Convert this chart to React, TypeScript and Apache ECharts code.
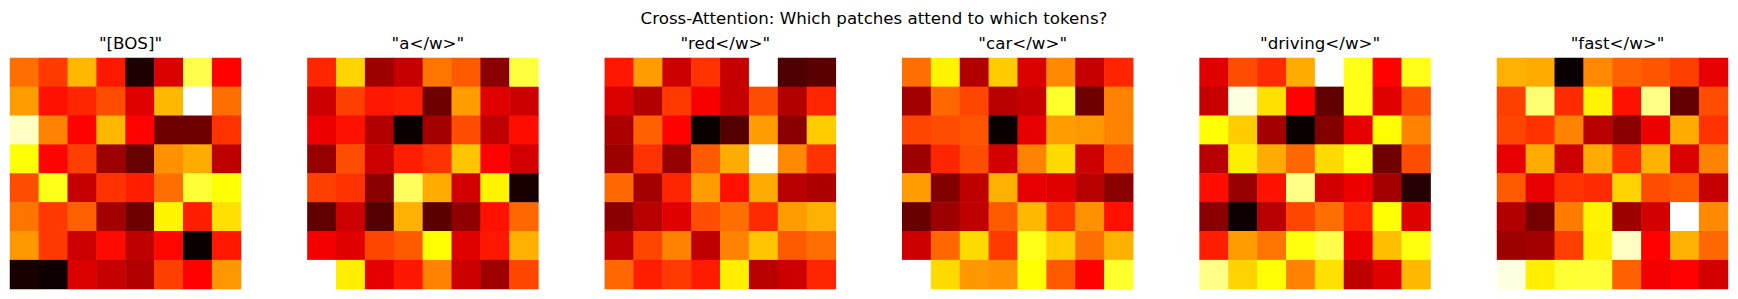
import React, { useEffect, useRef } from "react";
import * as echarts from "echarts";

const mainTitle = "Cross-Attention: Which patches attend to which tokens?";
const tokens = ['"[BOS]"', '"a</w>"', '"red</w>"', '"car</w>"', '"driving</w>"', '"fast</w>"'];
const patchIdx = ["0", "1", "2", "3", "4", "5", "6", "7"];

const attnBos = [
  [0.53, 0.45, 0.64, 0.40, 0.03, 0.31, 0.82, 0.365],
  [0.60, 0.39, 0.42, 0.48, 0.32, 0.64, 1.0, 0.53],
  [0.94, 0.56, 0.365, 0.64, 0.37, 0.15, 0.15, 0.44],
  [0.75, 0.37, 0.46, 0.22, 0.14, 0.58, 0.62, 0.27],
  [0.48, 0.77, 0.28, 0.44, 0.41, 0.53, 0.80, 0.75],
  [0.54, 0.45, 0.51, 0.23, 0.15, 0.73, 0.41, 0.70],
  [0.59, 0.45, 0.29, 0.38, 0.27, 0.375, 0.0, 0.40],
  [0.02, 0.005, 0.31, 0.28, 0.25, 0.46, 0.365, 0.59],
];
const attnA = [
  [0.42, 0.68, 0.22, 0.28, 0.54, 0.50, 0.19, 0.81],
  [0.29, 0.46, 0.40, 0.41, 0.15, 0.60, 0.32, 0.29],
  [0.34, 0.39, 0.25, 0.0, 0.23, 0.48, 0.27, 0.385],
  [0.21, 0.48, 0.29, 0.41, 0.44, 0.66, 0.365, 0.30],
  [0.46, 0.44, 0.19, 0.84, 0.62, 0.30, 0.73, 0.02],
  [0.13, 0.29, 0.11, 0.63, 0.12, 0.20, 0.39, 0.52],
  [0.35, 0.32, 0.47, 0.50, 0.75, 0.32, 0.40, 0.63],
  [1.0, 0.72, 0.33, 0.40, 0.56, 0.29, 0.22, 0.47],
];
const attnRed = [
  [0.40, 0.60, 0.29, 0.44, 0.28, 1.0, 0.10, 0.12],
  [0.31, 0.25, 0.45, 0.355, 0.28, 0.48, 0.25, 0.42],
  [0.24, 0.51, 0.365, 0.0, 0.11, 0.60, 0.19, 0.67],
  [0.22, 0.44, 0.21, 0.50, 0.62, 0.99, 0.57, 0.44],
  [0.52, 0.23, 0.42, 0.60, 0.39, 0.62, 0.26, 0.24],
  [0.19, 0.26, 0.32, 0.48, 0.53, 0.43, 0.60, 0.63],
  [0.27, 0.47, 0.56, 0.27, 0.56, 0.66, 0.50, 0.53],
  [0.52, 0.41, 0.45, 0.405, 0.72, 0.26, 0.29, 0.42],
];
const attnCar = [
  [0.53, 0.73, 0.25, 0.67, 0.31, 0.57, 0.28, 0.42],
  [0.23, 0.52, 0.47, 0.26, 0.28, 0.79, 0.15, 0.56],
  [0.47, 0.48, 0.49, 0.0, 0.33, 0.60, 0.59, 0.56],
  [0.22, 0.42, 0.48, 0.30, 0.56, 0.69, 0.29, 0.48],
  [0.60, 0.18, 0.27, 0.63, 0.33, 0.32, 0.26, 0.19],
  [0.14, 0.22, 0.27, 0.50, 0.64, 0.45, 0.58, 0.39],
  [0.29, 0.52, 0.69, 0.45, 0.77, 0.67, 0.53, 0.63],
  [1.0, 0.69, 0.59, 0.58, 0.75, 0.50, 0.365, 0.79],
];
const attnDriving = [
  [0.32, 0.48, 0.43, 0.62, 1.0, 0.77, 0.365, 0.77],
  [0.28, 0.97, 0.70, 0.365, 0.13, 0.77, 0.32, 0.48],
  [0.75, 0.67, 0.23, 0.0, 0.18, 0.33, 0.746, 0.56],
  [0.26, 0.72, 0.62, 0.52, 0.69, 0.76, 0.15, 0.48],
  [0.385, 0.21, 0.39, 0.88, 0.30, 0.34, 0.23, 0.04],
  [0.19, 0.005, 0.26, 0.47, 0.53, 0.42, 0.75, 0.32],
  [0.41, 0.60, 0.54, 0.76, 0.82, 0.34, 0.65, 0.76],
  [0.88, 0.68, 0.75, 0.56, 0.70, 0.27, 0.32, 0.64],
];
const attnFast = [
  [0.63, 0.62, 0.0, 0.57, 0.51, 0.49, 0.46, 0.33],
  [0.46, 0.86, 0.43, 0.73, 0.39, 0.88, 0.13, 0.48],
  [0.47, 0.44, 0.56, 0.26, 0.19, 0.34, 0.62, 0.44],
  [0.33, 0.62, 0.29, 0.62, 0.43, 0.63, 0.31, 0.56],
  [0.50, 0.33, 0.44, 0.43, 0.68, 0.48, 0.50, 0.28],
  [0.25, 0.16, 0.55, 0.73, 0.22, 0.30, 1.0, 0.57],
  [0.22, 0.23, 0.46, 0.72, 0.94, 0.365, 0.63, 0.52],
  [0.97, 0.72, 0.80, 0.80, 0.51, 0.35, 0.365, 0.30],
];

const maps = [attnBos, attnA, attnRed, attnCar, attnDriving, attnFast];

// matplotlib "hot" colormap sampled as a palette
function hotPalette(n: number): string[] {
  const out: string[] = [];
  const a = 0.365079, b = 0.746032;
  for (let i = 0; i < n; i++) {
    const x = i / (n - 1);
    const r = x < a ? 0.0416 + (1 - 0.0416) * (x / a) : 1;
    const g = x < a ? 0 : x < b ? (x - a) / (b - a) : 1;
    const bl = x < b ? 0 : (x - b) / (1 - b);
    const h = (v: number) => Math.round(Math.max(0, Math.min(1, v)) * 255).toString(16).padStart(2, "0");
    out.push("#" + h(r) + h(g) + h(bl));
  }
  return out;
}

export default function App() {
  const ref = useRef<HTMLDivElement>(null);
  useEffect(() => {
    document.body.style.margin = "0";
    if (!ref.current) return;
    const chart = echarts.init(ref.current, undefined, { renderer: "svg" });
    const font = { fontFamily: "DejaVu Sans", fontWeight: "normal" as const, fontSize: 16.67, color: "#000" };
    const grids: any[] = [];
    const xAxes: any[] = [];
    const yAxes: any[] = [];
    const series: any[] = [];
    const titles: any[] = [
      { text: mainTitle, left: 869, top: 5, textAlign: "center", textStyle: font },
    ];
    const step = 297.4;
    maps.forEach((m, i) => {
      const left = 10 + i * step;
      grids.push({ left, top: 58, width: 231, height: 231 });
      xAxes.push({ type: "category", gridIndex: i, data: patchIdx, show: false });
      yAxes.push({ type: "category", gridIndex: i, data: patchIdx, inverse: true, show: false });
      const data: number[][] = [];
      m.forEach((row, r) => row.forEach((v, c) => data.push([c, r, v])));
      series.push({
        type: "heatmap",
        xAxisIndex: i,
        yAxisIndex: i,
        data,
        itemStyle: { borderWidth: 0 },
        emphasis: { disabled: true },
      });
      titles.push({ text: tokens[i], left: left + 115.5, top: 30, textAlign: "center", textStyle: font });
    });
    chart.setOption({
      animation: false,
      backgroundColor: "#fff",
      title: titles,
      grid: grids,
      xAxis: xAxes,
      yAxis: yAxes,
      visualMap: {
        type: "continuous",
        show: false,
        min: 0,
        max: 1,
        seriesIndex: series.map((_, i) => i),
        inRange: { color: hotPalette(129) },
      },
      series,
    });
    return () => chart.dispose();
  }, []);
  return <div ref={ref} style={{ width: 1738, height: 299 }} />;
}
